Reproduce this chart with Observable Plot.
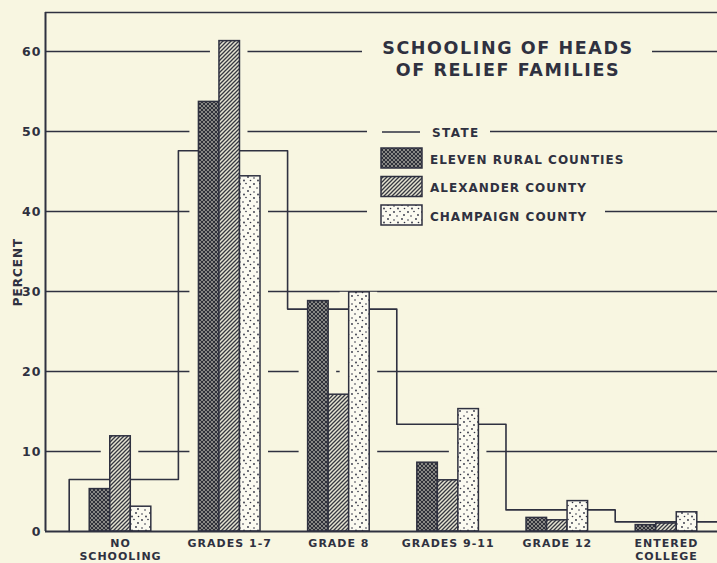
<!DOCTYPE html>
<html><head><meta charset="utf-8">
<script src="https://cdn.jsdelivr.net/npm/d3@7"></script>
<script src="https://cdn.jsdelivr.net/npm/@observablehq/plot@0.6"></script>
<style>
html,body{margin:0;padding:0;background:#f8f6e1;}
#chart svg{display:block;}
</style></head><body>
<svg width="0" height="0" style="position:absolute">
<defs>
<pattern id="p-eleven" patternUnits="userSpaceOnUse" width="4" height="4">
 <rect width="4" height="4" fill="#b0afa6"/>
 <path d="M0,4 L4,0 M-1,1 L1,-1 M3,5 L5,3" stroke="#2a2c36" stroke-width="1.15"/>
 <path d="M0,0 L4,4 M-1,3 L1,5 M3,-1 L5,1" stroke="#2a2c36" stroke-width="1.15"/>
</pattern>
<pattern id="p-alex" patternUnits="userSpaceOnUse" width="4" height="4">
 <rect width="4" height="4" fill="#e6e4d2"/>
 <path d="M0,4 L4,0 M-1,1 L1,-1 M3,5 L5,3" stroke="#363842" stroke-width="1.3"/>
</pattern>
<pattern id="p-champ" patternUnits="userSpaceOnUse" width="14" height="14">
 <rect width="14" height="14" fill="#fbfaf0"/>
 <g fill="#2e3040">
  <circle cx="2" cy="2" r="0.9"/><circle cx="8" cy="1.5" r="0.8"/><circle cx="12" cy="5" r="0.9"/>
  <circle cx="5" cy="6" r="0.8"/><circle cx="10" cy="9" r="0.9"/><circle cx="2" cy="10" r="0.8"/>
  <circle cx="6" cy="12.5" r="0.9"/><circle cx="12.5" cy="12.5" r="0.8"/>
 </g>
</pattern>
</defs></svg>
<div id="chart"></div>
<script>
// ---- data ----
const categories = ["NO\nSCHOOLING", "GRADES 1-7", "GRADE 8", "GRADES 9-11", "GRADE 12", "ENTERED\nCOLLEGE"];
const seriesNames = ["ELEVEN RURAL COUNTIES", "ALEXANDER COUNTY", "CHAMPAIGN COUNTY"];
const elevenRural = [5.3, 53.7, 28.8, 8.6, 1.7, 0.8];
const alexander   = [11.9, 61.3, 17.1, 6.4, 1.4, 1.0];
const champaign   = [3.1, 44.4, 29.9, 15.3, 3.8, 2.4];
const state       = [6.5, 47.6, 27.8, 13.4, 2.7, 1.2];
const yTicks = [0, 10, 20, 30, 40, 50, 60];
const titleLines = ["SCHOOLING OF HEADS", "OF RELIEF FAMILIES"];
const stateLabel = "STATE";
const yLabel = "PERCENT";

// ---- styling / layout ----
const ink = "#2f3140";
const bg = "#f8f6e1";
const fills = ["url(#p-eleven)", "url(#p-alex)", "url(#p-champ)"];
const barW = 0.188;
const xMin = -0.687, xMax = 5.467;
const yMax = 64.875;
const stepLo = -0.47, stepHi = 0.53;
const font = "DejaVu Sans, sans-serif";

const bars = [];
[elevenRural, alexander, champaign].forEach((vals, s) =>
  vals.forEach((v, i) => bars.push({i, s, v, x1: i + (s - 1.5) * barW, x2: i + (s - 0.5) * barW}))
);
const stepPts = [{x: stepLo, y: 0}];
state.forEach((v, i) => {
  stepPts.push({x: i + stepLo, y: v});
  stepPts.push({x: Math.min(i + stepHi, xMax), y: v});
});

const plot = Plot.plot({
  width: 717, height: 563,
  marginLeft: 45, marginRight: 0, marginTop: 12, marginBottom: 32,
  style: {background: bg, fontFamily: font, color: ink},
  x: {domain: [xMin, xMax], axis: null},
  y: {domain: [0, yMax], axis: null},
  marks: [
    Plot.ruleY(yTicks.filter(t => t > 0), {stroke: ink, strokeWidth: 1.5}),
    Plot.rectY(bars, {x1: "x1", x2: "x2", y1: 0, y2: "v", fill: bg, insetLeft: -9, insetRight: -8}),
    Plot.line(stepPts, {x: "x", y: "y", stroke: ink, strokeWidth: 1.6, curve: "linear"}),
    ...[0, 1, 2].map(s => Plot.rectY(bars.filter(d => d.s === s), {x1: "x1", x2: "x2", y1: 0, y2: "v", fill: fills[s], stroke: ink, strokeWidth: 1.5})),
    Plot.ruleY([0], {stroke: ink, strokeWidth: 2}),
    Plot.ruleY([yMax], {stroke: ink, strokeWidth: 1.5}),
    Plot.ruleX([xMin], {y1: 0, y2: yMax, stroke: ink, strokeWidth: 2}),
    Plot.axisY({ticks: yTicks, tickSize: 0, tickPadding: 4, fontSize: 12.5, fontWeight: "bold", label: null, fill: ink}),
    Plot.axisX({ticks: d3.range(categories.length), tickFormat: i => categories[i], tickSize: 0, tickPadding: 6,
      fontSize: 11, fontWeight: "bold", lineHeight: 1.2, label: null, fill: ink})
  ]
});
document.getElementById("chart").appendChild(plot);

const svg = d3.select(plot);
svg.selectAll("text").style("letter-spacing", "1px");

const g = svg.append("g").attr("font-family", font).attr("fill", ink).attr("font-weight", "bold").attr("text-anchor", "start");
// y label
g.append("text").attr("transform", "translate(22,272) rotate(-90)").attr("text-anchor", "middle")
  .attr("font-size", 12).attr("letter-spacing", "1px").text(yLabel);
// title
g.append("rect").attr("x", 362).attr("y", 34).attr("width", 290).attr("height", 46).attr("fill", bg);
titleLines.forEach((t, k) => g.append("text").attr("x", 508).attr("y", 54 + k * 22).attr("text-anchor", "middle")
  .attr("font-size", 17.5).attr("letter-spacing", "1.6px").text(t));
// legend
g.append("rect").attr("x", 367).attr("y", 122).attr("width", 123).attr("height", 20).attr("fill", bg);
g.append("rect").attr("x", 367).attr("y", 142).attr("width", 238).attr("height", 88).attr("fill", bg);
g.append("line").attr("x1", 382).attr("x2", 420).attr("y1", 132).attr("y2", 132).attr("stroke", ink).attr("stroke-width", 1.6);
g.append("text").attr("x", 432).attr("y", 137).attr("text-anchor", "start").attr("font-size", 12).attr("letter-spacing", "1.4px").text(stateLabel);
seriesNames.forEach((name, s) => {
  const y0 = 148 + s * 28.5;
  g.append("rect").attr("x", 381).attr("y", y0).attr("width", 41).attr("height", 20)
    .attr("fill", fills[s]).attr("stroke", ink).attr("stroke-width", 1.5);
  g.append("text").attr("x", 430).attr("y", y0 + 15.5).attr("text-anchor", "start").attr("font-size", 12).attr("letter-spacing", "1px").text(name);
});
</script>
</body></html>
